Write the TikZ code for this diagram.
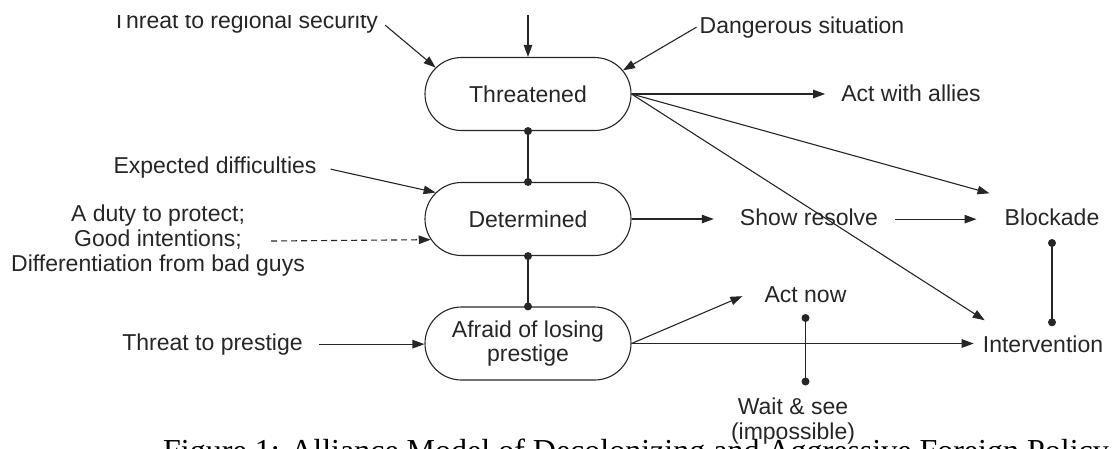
\documentclass[tikz,border=0pt]{standalone}
\usepackage{fontspec}
\setmainfont{Liberation Sans}
\newfontfamily\capfont{Liberation Serif}
\usetikzlibrary{shapes.misc,arrows.meta}
\definecolor{ink}{gray}{0.15}
\begin{document}
\begin{tikzpicture}[x=1pt,y=-1pt,
  every node/.style={font=\fontsize{23}{25}\selectfont, text=ink},
  lbl/.style={inner sep=0pt, text height=16.5pt, text depth=4.8pt, anchor=base},
  state/.style={rounded rectangle, draw=ink, line width=1.1pt, minimum width=206pt,
    minimum height=73pt, inner sep=0pt, align=center, font=\fontsize{23}{24}\selectfont},
  arr/.style={draw=ink, line width=1.1pt, -{Triangle[length=12pt,width=8.5pt]}},
  conn/.style={draw=ink, line width=1.8pt},
  dotc/.style={fill=ink}
]
\useasboundingbox (0,0) rectangle (1118,448);
% state nodes
\node[state] (thr) at (528,94) {Threatened};
\node[state] (det) at (528,219) {Determined};
\node[state] (afr) at (528,343.5) {Afraid of losing\\prestige};
% labels
\node[lbl] (regsec) at (245,28) {Threat to regional security};
\node[lbl] (dang) at (802,33) {Dangerous situation};
\node[lbl] (allies) at (911,101) {Act with allies};
\node[lbl] (expd) at (215,173) {Expected difficulties};
\node[align=center, inner sep=0pt] (duty) at (158,241) {A duty to protect;\\Good intentions;\\Differentiation from bad guys};
\node[lbl] (show) at (809,225) {Show resolve};
\node[lbl] (block) at (1052,225) {Blockade};
\node[lbl] (prest) at (212.5,350) {Threat to prestige};
\node[lbl] (actnow) at (805.5,302) {Act now};
\node[lbl] (interv) at (1043,352) {Intervention};
\node[align=center, inner sep=0pt, anchor=north] (wait) at (793,397.5) {Wait \& see\\(impossible)};
% coordinates
\coordinate (topin) at (528,0);
\coordinate (an1) at ([yshift=-11pt]actnow.south);
\coordinate (an2) at ([yshift=16pt]an1 |- wait.north);
\coordinate (bi1) at ([yshift=-13pt]block.south);
\coordinate (bi2) at ([yshift=13pt]bi1 |- interv.north);
% arrows into Threatened
\draw[arr] (topin) -- (thr.north);
\draw[arr] ([xshift=7pt,yshift=-3pt]regsec.east) -- (thr.164);
\draw[arr] ([xshift=-3pt]dang.west) -- (thr.14);
% out of Threatened
\draw[arr] (thr.east) -- ([xshift=-16pt]thr.east -| allies.west);
\draw[arr] (thr.east) -- ([xshift=-15pt,yshift=15pt]block.north west);
\draw[arr] (thr.east) -- ([xshift=2pt,yshift=15pt]interv.north west);
% Threatened - Determined
\draw[conn] (thr.south) -- (det.north);
\fill[dotc] (thr.south) circle (4pt) (det.north) circle (4pt);
% into Determined
\draw[arr] ([xshift=14pt,yshift=-2pt]expd.east) -- (det.164);
\draw[arr, dash pattern=on 6pt off 4pt] ([xshift=-34pt]duty.east) -- (det.192);
% out of Determined
\draw[arr] (det.east) -- ([xshift=-26pt]det.east -| show.west);
\draw[arr] ([xshift=17pt]show.east) -- ([xshift=-28pt]block.west);
% Determined - Afraid
\draw[conn] (det.south) -- (afr.north);
\fill[dotc] (det.south) circle (4pt) (afr.north) circle (4pt);
% Afraid
\draw[arr] ([xshift=16pt]prest.east) -- (prest.east -| afr.west);
\draw[arr] (afr.east) -- ([xshift=-22pt]actnow.west);
\draw[arr] (afr.east) -- ([xshift=-9pt]afr.east -| interv.west);
% option links
\draw[conn] (an1) -- (an2);
\fill[dotc] (an1) circle (4pt) (an2) circle (4pt);
\draw[conn] (bi1) -- (bi2);
\fill[dotc] (bi1) circle (4pt) (bi2) circle (4pt);
% top white band
\fill[white] (0,0) rectangle (1118,15);
% caption
\node[anchor=base west, inner sep=0pt, font=\capfont\fontsize{32}{36}\selectfont, text=black] (cap) at (163,461) {Figure 1: Alliance Model of Decolonizing and Aggressive Foreign Policy};
\end{tikzpicture}
\end{document}
